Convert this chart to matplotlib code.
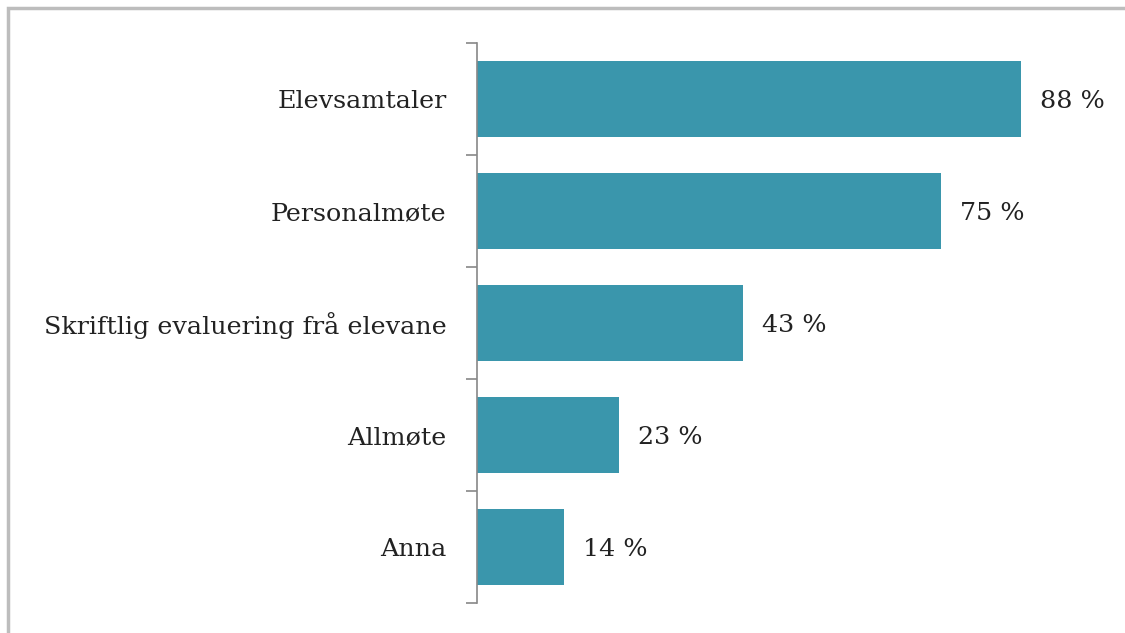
import numpy as np
import matplotlib.pyplot as plt
from matplotlib.patches import Rectangle

# data
categories = ['Elevsamtaler', 'Personalmøte', 'Skriftlig evaluering frå elevane', 'Allmøte', 'Anna']
values = [88, 75, 43, 23, 14]

W, H = 1125, 633
fig = plt.figure(figsize=(W / 100, H / 100), dpi=100)
plt.rcParams['font.family'] = ['DejaVu Serif']

# grey frame round the chart
fig.patches.append(Rectangle((8 / W, -0.1), 1.2, (H - 8) / H + 0.1, transform=fig.transFigure,
                             fill=False, edgecolor='#bdbdbd', linewidth=2.5))

ax = fig.add_axes([477 / W, 30 / H, (W - 477) / W, 560 / H])
y = np.arange(len(categories))
ax.barh(y, values, height=0.68, color='#3a96ac')
ax.set_xlim(0, (W - 477) / 6.18)
ax.set_ylim(len(categories) - 0.5, -0.5)

for yi, v in zip(y, values):
    ax.text(v + 3.1, yi, f'{v} %', va='center_baseline', ha='left', fontsize=18.3, color='#222222')

ax.set_yticks(y)
ax.set_yticklabels(categories, fontsize=18.3, color='#222222', va='center_baseline')
ax.tick_params(axis='y', which='major', length=0, pad=22)
ax.set_yticks(np.arange(-0.5, len(categories)), minor=True)
ax.tick_params(axis='y', which='minor', length=8, color='#888888', width=1.2)
ax.set_xticks([])
for s in ['top', 'right', 'bottom']:
    ax.spines[s].set_visible(False)
ax.spines['left'].set_color('#888888')
ax.spines['left'].set_linewidth(1.2)
ax.patch.set_visible(False)

fig.savefig('out.png', dpi=100)
